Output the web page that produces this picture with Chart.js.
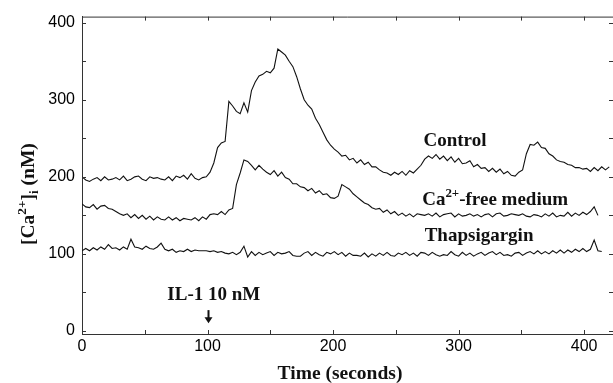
<!DOCTYPE html>
<html>
<head>
<meta charset="utf-8">
<script src="https://cdn.jsdelivr.net/npm/chart.js@4.4.1/dist/chart.umd.min.js"></script>
<style>
  body { margin: 0; background: #fff; }
  #wrap { width: 613px; height: 383px; }
</style>
</head>
<body>
<div id="wrap"><canvas id="fig" width="613" height="383"></canvas></div>
<script>
// temps (s), un point toutes les 3 s
const times = [
  0, 3, 6, 9, 12, 15, 18, 21, 24, 27, 30, 33, 36, 39, 42, 45, 48, 51, 54, 57,
  60, 63, 66, 69, 72, 75, 78, 81, 84, 87, 90, 93, 96, 99, 102, 105, 108, 111, 114, 117,
  120, 123, 126, 129, 132, 135, 138, 141, 144, 147, 150, 153, 156, 159, 162, 165, 168, 171, 174, 177,
  180, 183, 186, 189, 192, 195, 198, 201, 204, 207, 210, 213, 216, 219, 222, 225, 228, 231, 234, 237,
  240, 243, 246, 249, 252, 255, 258, 261, 264, 267, 270, 273, 276, 279, 282, 285, 288, 291, 294, 297,
  300, 303, 306, 309, 312, 315, 318, 321, 324, 327, 330, 333, 336, 339, 342, 345, 348, 351, 354, 357,
  360, 363, 366, 369, 372, 375, 378, 381, 384, 387, 390, 393, 396, 399, 402, 405, 408, 411, 414, 417,
  420
];

// [Ca2+]i (nM) - Control
const control = [
  200, 196, 194, 197, 199, 195, 200, 196, 197, 199, 196, 201, 195, 197, 200, 201, 197, 195, 200, 198,
  199, 197, 196, 200, 195, 201, 199, 202, 197, 204, 198, 196, 199, 200, 206, 218, 238, 244, 246, 298,
  292, 285, 282, 296, 284, 312, 323, 331, 333, 337, 335, 341, 366, 362, 358, 350, 343, 330, 314, 300,
  293, 288, 276, 268, 258, 248, 241, 236, 232, 227, 228, 222, 224, 218, 222, 216, 219, 213, 213, 209,
  206, 205, 202, 206, 203, 207, 202, 208, 205, 210, 215, 223, 227, 224, 229, 223, 227, 221, 226, 219,
  224, 217, 218, 221, 213, 216, 211, 212, 207, 211, 206, 210, 204, 207, 202, 201, 206, 209, 230, 242,
  241, 245, 238, 237, 230, 227, 222, 220, 219, 216, 215, 212, 212, 210, 211, 207, 212, 208, 213, 209,
  213
];

// Milieu sans Ca2+
const caFree = [
  165, 161, 160, 164, 158, 162, 163, 159, 158, 155, 152, 150, 152, 147, 151, 146, 150, 145, 149, 144,
  148, 145, 144, 148, 144, 147, 143, 146, 145, 144, 147, 143, 148, 145, 151, 152, 151, 155, 151, 157,
  159, 190, 205, 222, 220, 215, 209, 215, 210, 206, 203, 208, 201, 206, 199, 197, 191, 191, 187, 186,
  182, 185, 179, 182, 177, 178, 173, 172, 175, 190, 187, 184, 178, 174, 170, 166, 164, 160, 158, 159,
  154, 157, 152, 155, 150, 153, 149, 152, 148, 152, 151, 150, 152, 149, 153, 148, 151, 152, 153, 148,
  152, 149, 150, 152, 149, 151, 148, 151, 152, 148, 152, 153, 149, 150, 152, 151, 150, 152, 149, 148,
  151, 150, 148, 152, 149, 153, 148, 150, 149, 154, 149, 153, 150, 154, 151, 155, 161, 150, null, null,
  null
];

// Thapsigargine
const thapsigargin = [
  104, 107, 104, 108, 105, 109, 106, 112, 107, 108, 105, 109, 106, 119, 109, 108, 106, 110, 107, 106,
  109, 114, 106, 104, 106, 102, 104, 103, 106, 103, 105, 104, 104, 104, 103, 104, 102, 103, 101, 100,
  102, 99, 102, 110, 96, 103, 98, 102, 99, 101, 103, 98, 102, 100, 101, 103, 98, 97, 97, 101,
  103, 98, 102, 99, 97, 102, 100, 103, 99, 102, 97, 101, 98, 98, 97, 101, 96, 100, 97, 101,
  98, 102, 98, 97, 101, 99, 102, 98, 101, 97, 102, 101, 98, 102, 99, 97, 99, 98, 103, 99,
  97, 102, 98, 101, 97, 100, 102, 98, 101, 103, 99, 102, 98, 99, 97, 101, 102, 98, 101, 103,
  100, 104, 100, 103, 100, 104, 101, 105, 101, 105, 102, 106, 103, 107, 103, 106, 118, 104, 103, null,
  null
];

const xTickValues = [0, 100, 200, 300, 400];
const yTickValues = [0, 100, 200, 300, 400];
const minorStep = 50;

const serif = '"Liberation Serif", "Times New Roman", serif';
const sans = '"Liberation Sans", Arial, sans-serif';
const ink = '#111';

function toPoints(values) {
    return times.map((t, i) => ({ x: t, y: values[i] }));
}

// écrit du texte avec exposant / indice, morceau par morceau
function drawRich(ctx, parts, x, y, size) {
    let cx = x;
    parts.forEach(p => {
        const s = p.small ? size * 0.68 : size;
        ctx.font = 'bold ' + s + 'px ' + serif;
        const dy = p.sup ? -size * 0.42 : (p.sub ? size * 0.22 : 0);
        ctx.fillText(p.t, cx, y + dy);
        cx += ctx.measureText(p.t).width;
    });
}

const decorations = {
    id: 'decorations',
    afterDraw(chart) {
        const { ctx, chartArea: a, scales: { x, y } } = chart;
        ctx.save();
        ctx.strokeStyle = '#333';
        ctx.lineWidth = 1;

        // cadre du haut
        ctx.beginPath();
        ctx.moveTo(a.left, a.top + 0.5);
        ctx.lineTo(a.right, a.top + 0.5);
        ctx.stroke();

        // graduations vers l'intérieur
        ctx.beginPath();
        for (let v = 0; v <= x.max; v += minorStep) {
            const px = Math.round(x.getPixelForValue(v)) + 0.5;
            ctx.moveTo(px, a.bottom); ctx.lineTo(px, a.bottom - 4);
            ctx.moveTo(px, a.top); ctx.lineTo(px, a.top + 4);
        }
        for (let v = 0; v <= y.max; v += minorStep) {
            const py = Math.round(y.getPixelForValue(v)) + 0.5;
            ctx.moveTo(a.left, py); ctx.lineTo(a.left + 4, py);
            ctx.moveTo(a.right, py); ctx.lineTo(a.right - 4, py);
        }
        ctx.stroke();

        ctx.fillStyle = ink;
        ctx.textBaseline = 'alphabetic';
        ctx.textAlign = 'left';

        // étiquettes des courbes
        drawRich(ctx, [{ t: 'Control' }], x.getPixelForValue(272), y.getPixelForValue(240), 19);
        drawRich(ctx, [{ t: 'Ca' }, { t: '2+', small: true, sup: true }, { t: '-free medium' }],
            x.getPixelForValue(271), y.getPixelForValue(163), 19);
        drawRich(ctx, [{ t: 'Thapsigargin' }], x.getPixelForValue(273), y.getPixelForValue(117), 19);

        // ajout d'IL-1
        ctx.textAlign = 'center';
        ctx.font = 'bold 19px ' + serif;
        ctx.fillText('IL-1 10 nM', x.getPixelForValue(105), y.getPixelForValue(40));
        const ax = Math.round(x.getPixelForValue(100)) + 0.5;
        const top = y.getPixelForValue(27);
        const tip = y.getPixelForValue(10);
        ctx.strokeStyle = ink;
        ctx.lineWidth = 2;
        ctx.beginPath();
        ctx.moveTo(ax, top); ctx.lineTo(ax, tip - 5);
        ctx.stroke();
        ctx.beginPath();
        ctx.moveTo(ax - 4, tip - 6); ctx.lineTo(ax + 4, tip - 6); ctx.lineTo(ax, tip);
        ctx.closePath();
        ctx.fill();

        // titre de l'axe x
        ctx.font = 'bold 19.5px ' + serif;
        ctx.fillText('Time (seconds)', a.left + 258, 379);

        // titre de l'axe y (tourné)
        ctx.translate(34, 245);
        ctx.rotate(-Math.PI / 2);
        ctx.textAlign = 'left';
        drawRich(ctx, [{ t: '[Ca' }, { t: '2+', small: true, sup: true }, { t: ']' },
            { t: 'i', small: true, sub: true }, { t: ' (nM)' }], 0, 0, 19.5);
        ctx.restore();
    }
};

new Chart(document.getElementById('fig'), {
    type: 'line',
    data: {
        datasets: [
            { label: 'Control', data: toPoints(control) },
            { label: 'Ca2+-free medium', data: toPoints(caFree) },
            { label: 'Thapsigargin', data: toPoints(thapsigargin) }
        ].map(d => ({
            ...d,
            borderColor: ink,
            borderWidth: 1.1,
            pointRadius: 0,
            tension: 0,
            fill: false,
            spanGaps: false
        }))
    },
    options: {
        responsive: false,
        animation: false,
        layout: { padding: { top: 15, right: 0, left: 0, bottom: 0 } },
        plugins: {
            legend: { display: false },
            tooltip: { enabled: false }
        },
        scales: {
            x: {
                type: 'linear',
                min: 0,
                max: 423,
                afterBuildTicks: s => { s.ticks = xTickValues.map(v => ({ value: v })); },
                afterFit: s => { s.height = 49; },
                grid: { display: false, drawTicks: false },
                border: { display: true, color: '#333', width: 1 },
                ticks: { padding: 3, color: '#000', font: { family: sans, size: 16 } }
            },
            y: {
                min: -4,
                max: 408,
                afterBuildTicks: s => { s.ticks = yTickValues.map(v => ({ value: v })); },
                afterFit: s => { s.width = 82; },
                grid: { display: false, drawTicks: false },
                border: { display: true, color: '#333', width: 1 },
                ticks: { padding: 7, color: '#000', font: { family: sans, size: 16 } }
            }
        }
    },
    plugins: [decorations]
});
</script>
</body>
</html>
